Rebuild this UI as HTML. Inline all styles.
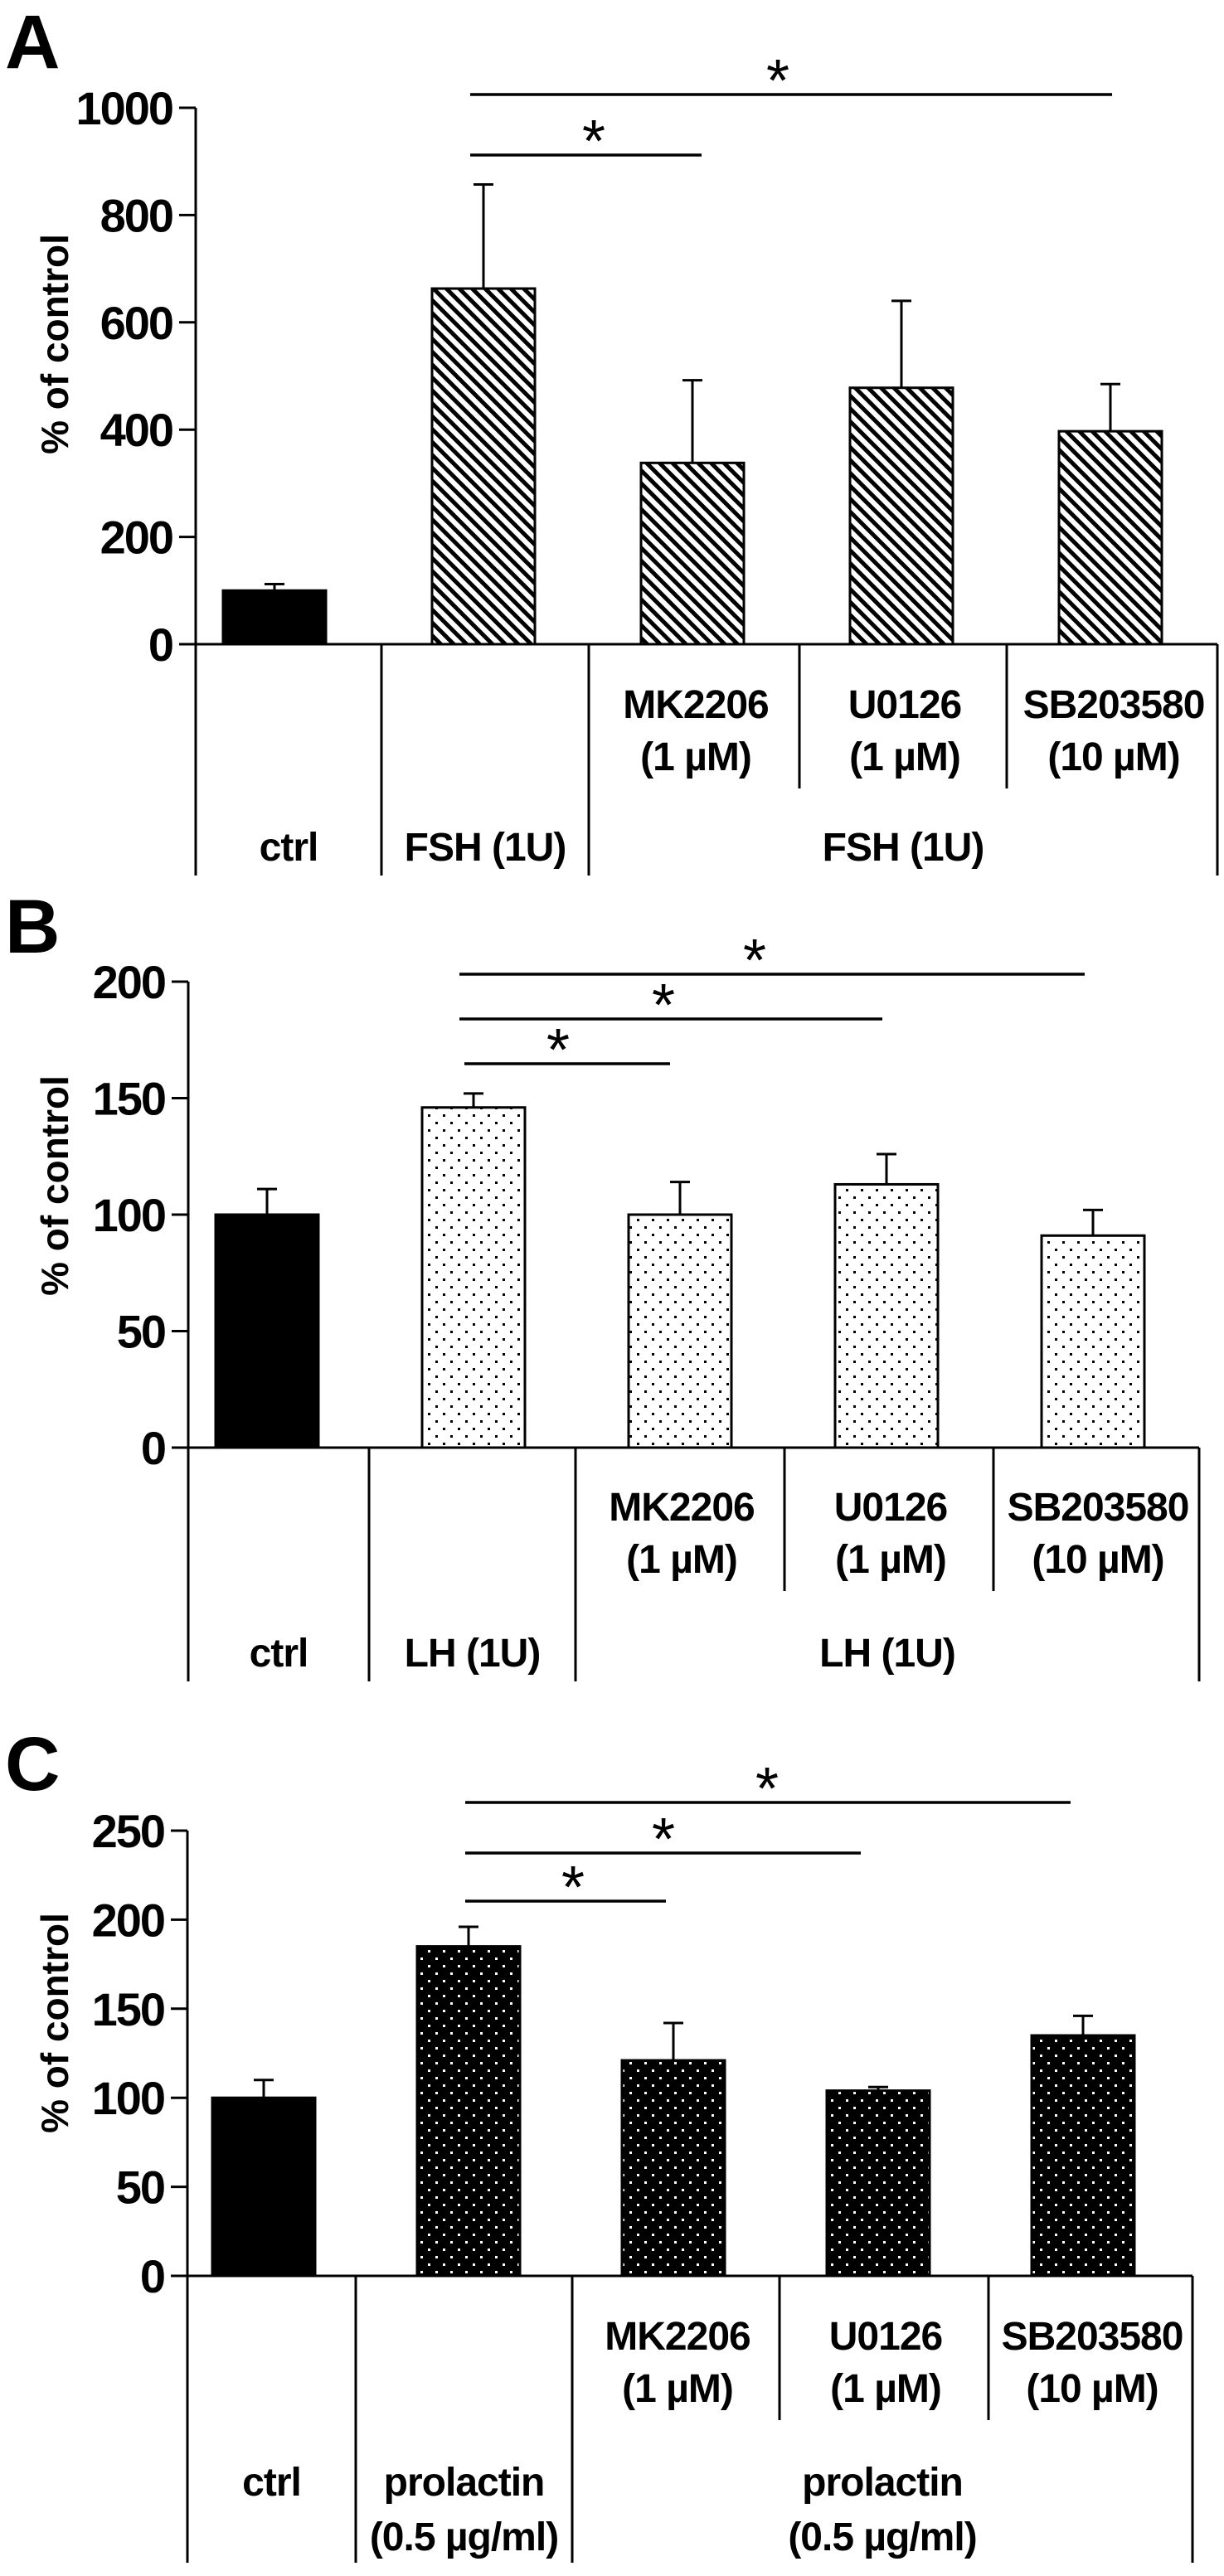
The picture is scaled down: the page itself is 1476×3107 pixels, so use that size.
<!DOCTYPE html>
<html><head><meta charset="utf-8"><style>
html,body{margin:0;padding:0;background:#fff;}
svg{display:block;font-family:"Liberation Sans",Arial,sans-serif;font-weight:bold;}
</style></head><body>
<svg id="fig" width="1476" height="3107" viewBox="0 0 1476 3107" xmlns="http://www.w3.org/2000/svg">
<defs>
<pattern id="stripes" patternUnits="userSpaceOnUse" width="11" height="11" patternTransform="rotate(-45)">
<rect width="11" height="11" fill="#fff"/><rect width="5" height="11" fill="#000"/>
</pattern>
<pattern id="dotsB" patternUnits="userSpaceOnUse" width="18" height="18">
<rect width="18" height="18" fill="#fff"/><rect x="3" y="3" width="3" height="3" fill="#000"/><rect x="12" y="12" width="3" height="3" fill="#000"/>
</pattern>
<pattern id="dotsC" patternUnits="userSpaceOnUse" width="18" height="18">
<rect width="18" height="18" fill="#000"/><rect x="3" y="3" width="3" height="3" fill="#fff"/><rect x="12" y="12" width="3" height="3" fill="#fff"/>
</pattern>
</defs>
</svg>
<script>
// Panel A data
const aCategories = ['ctrl','FSH','MK2206','U0126','SB203580'];
const aValues = [100, 663, 338, 478, 397];
const aErrors = [12, 194, 154, 162, 88];
const aTicks = [0, 200, 400, 600, 800, 1000];
// Panel B data
const bCategories = ['ctrl','LH','MK2206','U0126','SB203580'];
const bValues = [100, 146, 100, 113, 91];
const bErrors = [11, 6, 14, 13, 11];
const bTicks = [0, 50, 100, 150, 200];
// Panel C data
const cCategories = ['ctrl','prolactin','MK2206','U0126','SB203580'];
const cValues = [100, 185, 121, 104, 135];
const cErrors = [10, 11, 21, 2, 11];
const cTicks = [0, 50, 100, 150, 200, 250];

const NS = 'http://www.w3.org/2000/svg';
const svg = document.getElementById('fig');
function mk(tag, attrs, parent, text){
  const e = document.createElementNS(NS, tag);
  for (const k in attrs) e.setAttribute(k, attrs[k]);
  if (text !== undefined) e.textContent = text;
  (parent || svg).appendChild(e);
  return e;
}

function panel(cfg){
  const g = mk('g', {});
  
  
  const yMax = cfg.ticks[cfg.ticks.length-1];
  const y = v => cfg.y0 - (v / yMax) * (cfg.y0 - cfg.yTop);
  const x = i => cfg.c0 + i * cfg.step;
  const L = mk('text', {x: 6, y: cfg.letterY, 'font-size': 92}, g, cfg.letter);
  
  
  const ax = mk('line', {x1: cfg.ax, x2: cfg.ax, y1: cfg.yTop, y2: cfg.y0, stroke: '#000', 'stroke-width': 3}, g);
  
  
  cfg.ticks.forEach(t => {
    const tk = mk('line', {x1: cfg.ax - 20, x2: cfg.ax, y1: y(t), y2: y(t), stroke: '#000', 'stroke-width': 3}, g);
    
    
    const tl = mk('text', {x: cfg.ax - 28, y: y(t) + 20, 'font-size': 56, 'text-anchor': 'end', 'letter-spacing': -2}, g, String(t));
    
    
  });
  const yt = mk('text', {x: 0, y: 0, 'font-size': 46, 'text-anchor': 'middle', transform: `translate(82 ${cfg.titleY}) rotate(-90)`}, g, '% of control');
  
  
  cfg.values.forEach((v, i) => {
    const cx = x(i);
    const b = mk('rect', {x: cx - 62, y: y(v), width: 124, height: cfg.y0 - y(v), fill: i === 0 ? '#000' : cfg.fill, stroke: '#000', 'stroke-width': 3}, g);
    
    
    const top = y(v + cfg.errors[i]);
    const e1 = mk('line', {x1: cx, x2: cx, y1: y(v), y2: top, stroke: '#000', 'stroke-width': 3}, g);
    
    
    const e2 = mk('line', {x1: cx - 12, x2: cx + 12, y1: top, y2: top, stroke: '#000', 'stroke-width': 3}, g);
    
    
  });
  const xa = mk('line', {x1: cfg.ax - 20, x2: cfg.right, y1: cfg.y0, y2: cfg.y0, stroke: '#000', 'stroke-width': 3}, g);
  
  
  [cfg.ax, cfg.div[0], cfg.div[1], cfg.right].forEach(dx => {
    const l = mk('line', {x1: dx, x2: dx, y1: cfg.y0, y2: cfg.bottom, stroke: '#000', 'stroke-width': 3}, g);
    
    
  });
  [cfg.div[2], cfg.div[3]].forEach(dx => {
    const l = mk('line', {x1: dx, x2: dx, y1: cfg.y0, y2: cfg.inner, stroke: '#000', 'stroke-width': 3}, g);
    
    
  });
  const inh = [['MK2206','(1  µM)'],['U0126','(1  µM)'],['SB203580','(10  µM)']];
  inh.forEach((p, k) => {
    const cx = (cfg.div[1 + k] + (k < 2 ? cfg.div[2 + k] : cfg.right)) / 2 + 2;
    const t1 = mk('text', {x: cx, y: cfg.inhY, 'font-size': 48, 'text-anchor': 'middle', 'letter-spacing': -1}, g, p[0]);
    
    
    const t2 = mk('text', {x: cx, y: cfg.inhY + 63, 'font-size': 48, 'text-anchor': 'middle', 'xml:space': 'preserve', 'letter-spacing': -1}, g, p[1]);
    
    
  });
  cfg.treat.forEach((lines, k) => {
    const bounds = [[cfg.ax, cfg.div[0]], [cfg.div[0], cfg.div[1]], [cfg.div[1], cfg.right]][k];
    const cx = (bounds[0] + bounds[1]) / 2;
    lines.forEach((s, j) => {
      const t = mk('text', {x: cx, y: cfg.treatY + j * 66, 'font-size': 48, 'text-anchor': 'middle', 'xml:space': 'preserve', 'letter-spacing': -1}, g, s);
      
      
    });
  });
  cfg.sig.forEach(s => {
    const l = mk('line', {x1: s[0], x2: s[1], y1: s[2], y2: s[2], stroke: '#000', 'stroke-width': 3.5}, g);
    
    
    const st = mk('text', {x: s[3], y: s[2] + 8, 'font-size': 72, 'font-weight': 'normal', 'text-anchor': 'middle'}, g, '*');
    
    
  });
}

panel({id:'a', letter:'A', letterY:82, cats:aCategories, values:aValues, errors:aErrors, ticks:aTicks,
  ax:236, yTop:130, y0:777, c0:331, step:252, right:1468, div:[460,710,964,1214], bottom:1056, inner:951,
  inhY:866, treatY:1038, titleY:415, fill:'url(#stripes)',
  treat:[['ctrl'],['FSH (1U)'],['FSH (1U)']],
  sig:[[567,1341,114,938],[567,846,187,716]]});
panel({id:'b', letter:'B', letterY:1149, cats:bCategories, values:bValues, errors:bErrors, ticks:bTicks,
  ax:227, yTop:1184, y0:1746, c0:322, step:249, right:1446, div:[445,694,946,1198], bottom:2028, inner:1919,
  inhY:1834, treatY:2010, titleY:1430, fill:'url(#dotsB)',
  treat:[['ctrl'],['LH (1U)'],['LH (1U)']],
  sig:[[554,1308,1175,910],[554,1064,1229,800],[560,808,1283,673]]});
panel({id:'c', letter:'C', letterY:2159, cats:cCategories, values:cValues, errors:cErrors, ticks:cTicks,
  ax:226, yTop:2208, y0:2745, c0:318, step:247, right:1438, div:[429,690,940,1192], bottom:3091, inner:2919,
  inhY:2834, treatY:3010, titleY:2440, fill:'url(#dotsC)',
  treat:[['ctrl'],['prolactin','(0.5 µg/ml)'],['prolactin','(0.5  µg/ml)']],
  sig:[[561,1291,2174,925],[561,1038,2235,800],[561,803,2293,691]]});
</script>
</body></html>
